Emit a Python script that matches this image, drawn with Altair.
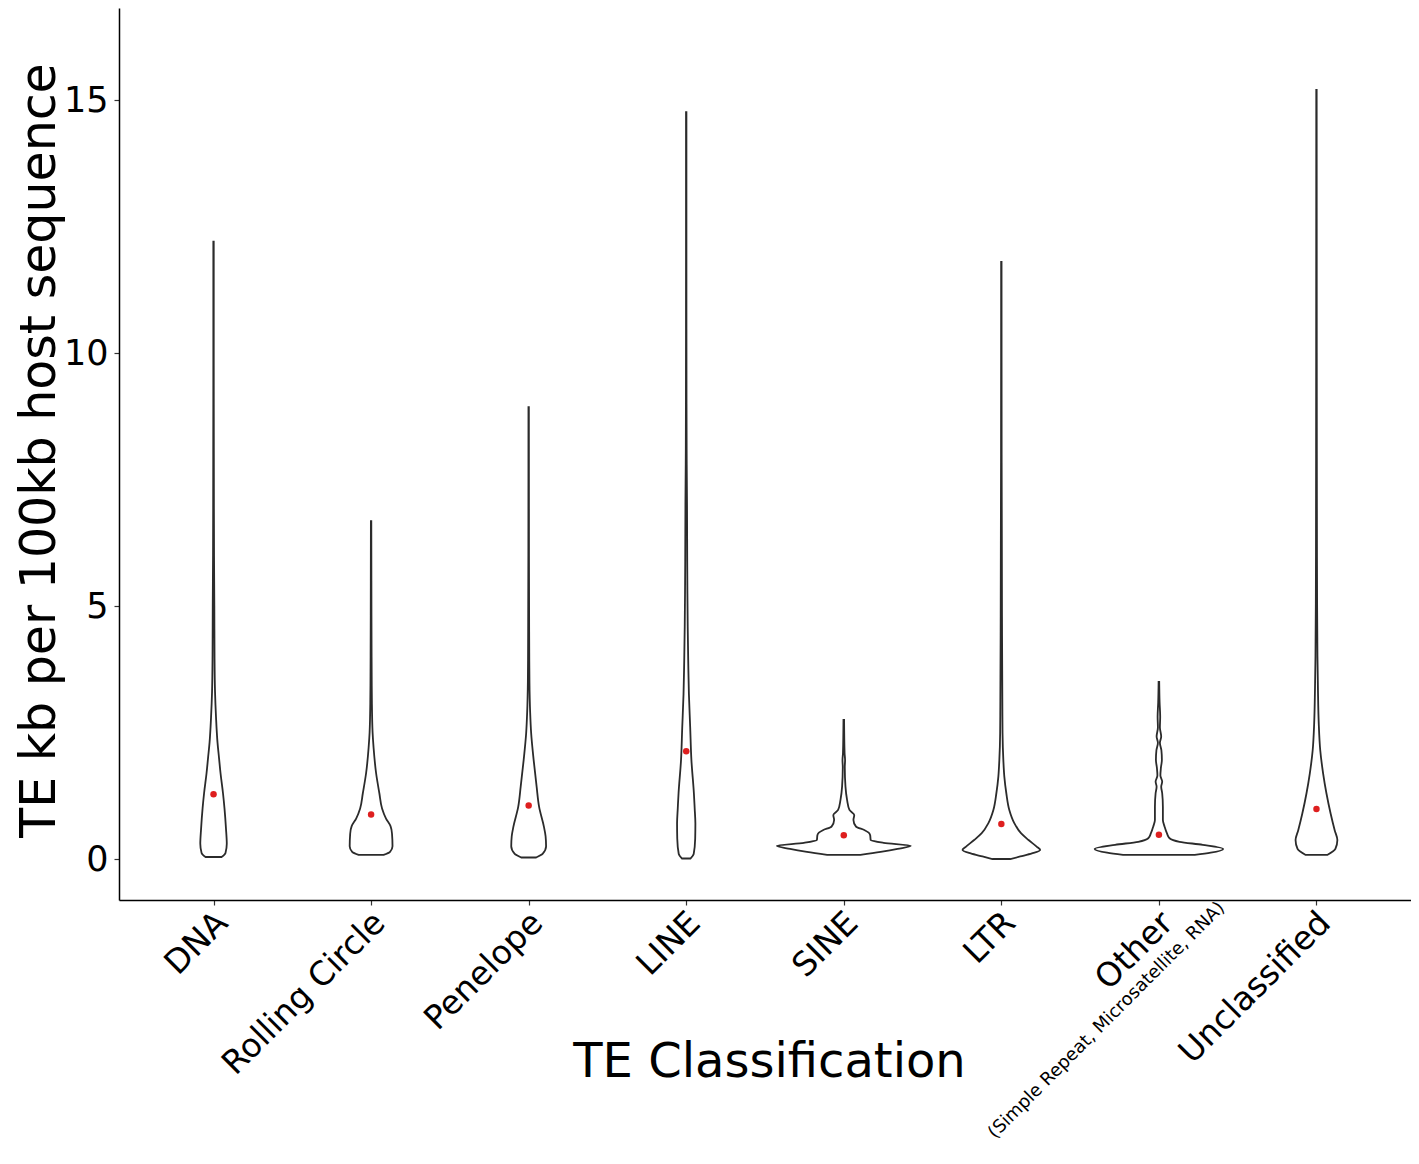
import altair as alt
import pandas as pd

# ---------------- data ----------------
categories = ["DNA", "Rolling Circle", "Penelope", "LINE", "SINE", "LTR", "Other", "Unclassified"]
other_note = "(Simple Repeat, Microsatellite, RNA)"

# mean value of each class (red dots)
means = [1.28, 0.88, 1.06, 2.13, 0.47, 0.69, 0.48, 0.99]

# violin outlines: value grid and half-width density (in 1/158 of a category step)
dna_v = [0.04, 0.12, 0.3, 0.6, 1.0, 1.3, 1.7, 2.0, 2.3, 2.8, 3.3, 4.0, 5.0, 6.0, 8.0, 10.0, 12.2]
dna_w = [8, 12, 13.3, 12.5, 11, 9.5, 7, 5.5, 4, 2.5, 1.5, 1.0, 0.8, 0.5, 0.3, 0.2, 0.2]

rc_v = [0.08, 0.14, 0.25, 0.5, 0.65, 0.8, 1.0, 1.3, 1.7, 2.2, 2.5, 3.1, 4.0, 5.5, 6.68]
rc_w = [12.5, 19, 21.5, 21, 19.5, 15, 11, 8.3, 5, 2.5, 1.5, 0.8, 0.5, 0.3, 0.2]

pen_v = [0.03, 0.1, 0.25, 0.45, 0.64, 1.03, 1.43, 1.96, 2.49, 2.9, 3.5, 4.5, 6.0, 8.93]
pen_w = [7.5, 14, 17.5, 17, 15.3, 10.5, 8, 5, 2.5, 1.5, 0.8, 0.5, 0.3, 0.2]

line_v = [0.01, 0.1, 0.4, 0.7, 1.0, 1.3, 1.96, 2.6, 3.26, 3.93, 4.59, 5.25, 5.9, 7.0, 7.8, 9.0, 12.0, 14.76]
line_w = [4.2, 7.5, 9, 9.2, 8.5, 7.7, 5.2, 4, 2.7, 2, 1.5, 1.2, 1.0, 0.8, 0.5, 0.3, 0.2, 0.2]

sine_v = [0.08, 0.14, 0.2, 0.26, 0.32, 0.375, 0.47, 0.52, 0.57, 0.64, 0.77, 0.87, 0.97, 1.17, 1.43, 1.82, 1.95, 2.1, 2.75]
sine_w = [16.7, 37, 54, 67.3, 40, 27, 26.5, 25, 21, 12.3, 9.7, 10.5, 5.7, 3.3, 1.7, 1.0, 1.3, 0.8, 0.3]

ltr_v = [0.0, 0.05, 0.11, 0.18, 0.24, 0.375, 0.51, 0.71, 0.97, 1.3, 1.63, 1.96, 2.49, 3.14, 4.5, 6.3, 8.0, 11.8]
ltr_w = [9, 19, 30.7, 39, 35.7, 27.3, 19.7, 13, 8, 5, 3, 2, 1.2, 1.0, 0.7, 0.5, 0.3, 0.2]

oth_v = [0.08, 0.125, 0.2, 0.28, 0.34, 0.41, 0.51, 0.64, 0.77, 1.03, 1.3, 1.43, 1.53, 1.65, 1.8, 1.96, 2.15, 2.3, 2.42, 2.6, 2.81, 3.1, 3.5]
oth_w = [36, 52, 64.5, 44, 20.7, 10.7, 8, 5.7, 4, 4, 3.3, 2.3, 3.3, 1.5, 2, 3, 2.5, 1, 2.3, 1, 1.3, 0.7, 0.3]

unc_v = [0.08, 0.2, 0.375, 0.57, 0.9, 1.3, 1.69, 2.15, 2.68, 3.34, 4.0, 6.0, 10.0, 15.2]
unc_w = [10.8, 19, 21, 18.3, 14.2, 10, 6.7, 3.8, 2.3, 1.5, 1.0, 0.5, 0.3, 0.2]

values_list = [dna_v, rc_v, pen_v, line_v, sine_v, ltr_v, oth_v, unc_v]
widths_list = [dna_w, rc_w, pen_w, line_w, sine_w, ltr_w, oth_w, unc_w]
DENSITY_UNIT = 158.2  # density values above are expressed per this fraction of a category step

rows = []
for i, (cat, vs, ws) in enumerate(zip(categories, values_list, widths_list)):
    for v, w in zip(vs, ws):
        hw = w / DENSITY_UNIT
        rows.append({"cat": cat, "idx": i, "v": v, "lo": i - hw, "hi": i + hw})
violin_df = pd.DataFrame(rows)

mean_df = pd.DataFrame({"cat": categories, "idx": list(range(len(categories))), "mean": means})
note_df = pd.DataFrame({"idx": [categories.index("Other")], "t": [other_note]})

# ---------------- chart ----------------
FONT = "DejaVu Sans"
x_scale = alt.Scale(domain=[-0.6, 7.6], nice=False, zero=False)
y_scale = alt.Scale(domain=[-0.81, 16.82], nice=False, zero=False)
label_expr = "[" + ",".join("'" + c + "'" for c in categories) + "][datum.value]"

x_axis = alt.Axis(
    values=list(range(len(categories))),
    labelExpr=label_expr,
    labelAngle=-45,
    labelAlign="right",
    labelBaseline="top",
    labelFont=FONT,
    labelFontSize=33,
    labelColor="black",
    labelPadding=1,
    labelOffset=-3,
    labelOverlap=False,
    labelFlush=False,
    labelLimit=1000,
    title="TE Classification",
    titleFont=FONT,
    titleFontSize=48,
    titleFontWeight="normal",
    titleColor="black",
    titleBaseline="alphabetic",
    titleX=650,
    titleY=176,
    grid=False,
    tickSize=5,
    tickColor="#333333",
    tickWidth=1.2,
    domainColor="black",
    domainWidth=1.5,
)

y_axis = alt.Axis(
    values=[0, 5, 10, 15],
    labelFont=FONT,
    labelFontSize=35,
    labelColor="black",
    labelPadding=6,
    title="TE kb per 100kb host sequence",
    titleFont=FONT,
    titleFontSize=49,
    titleFontWeight="normal",
    titleColor="black",
    titleAngle=270,
    titleBaseline="alphabetic",
    titleX=-65,
    titleY=442,
    grid=False,
    tickSize=5,
    tickColor="#333333",
    tickWidth=1.2,
    domainColor="black",
    domainWidth=1.5,
)

violins = alt.Chart(violin_df).mark_area(
    orient="horizontal",
    fill="white",
    stroke="#2b2b2b",
    strokeWidth=1.8,
    interpolate="monotone",
).encode(
    y=alt.Y("v:Q", scale=y_scale, axis=y_axis),
    x=alt.X("lo:Q", scale=x_scale, axis=x_axis),
    x2="hi:Q",
    detail="cat:N",
)

dots = alt.Chart(mean_df).mark_circle(color="#de1f1f", size=42, opacity=1).encode(
    x=alt.X("idx:Q", scale=x_scale),
    y=alt.Y("mean:Q", scale=y_scale),
)

note = alt.Chart(note_df).mark_text(
    angle=315,
    align="right",
    baseline="top",
    font=FONT,
    fontSize=18,
    color="black",
    dx=40,
    dy=40,
).encode(
    x=alt.X("idx:Q", scale=x_scale),
    y=alt.value(891),
    text="t:N",
)

chart = alt.layer(violins, dots, note).properties(
    width=1292,
    height=892,
    autosize=alt.AutoSizeParams(type="none"),
    padding={"left": 111, "top": 0, "right": 0, "bottom": 248},
    background="white",
).configure_view(stroke=None)

chart.save("out.html", embed_options={"renderer": "svg", "actions": False})
